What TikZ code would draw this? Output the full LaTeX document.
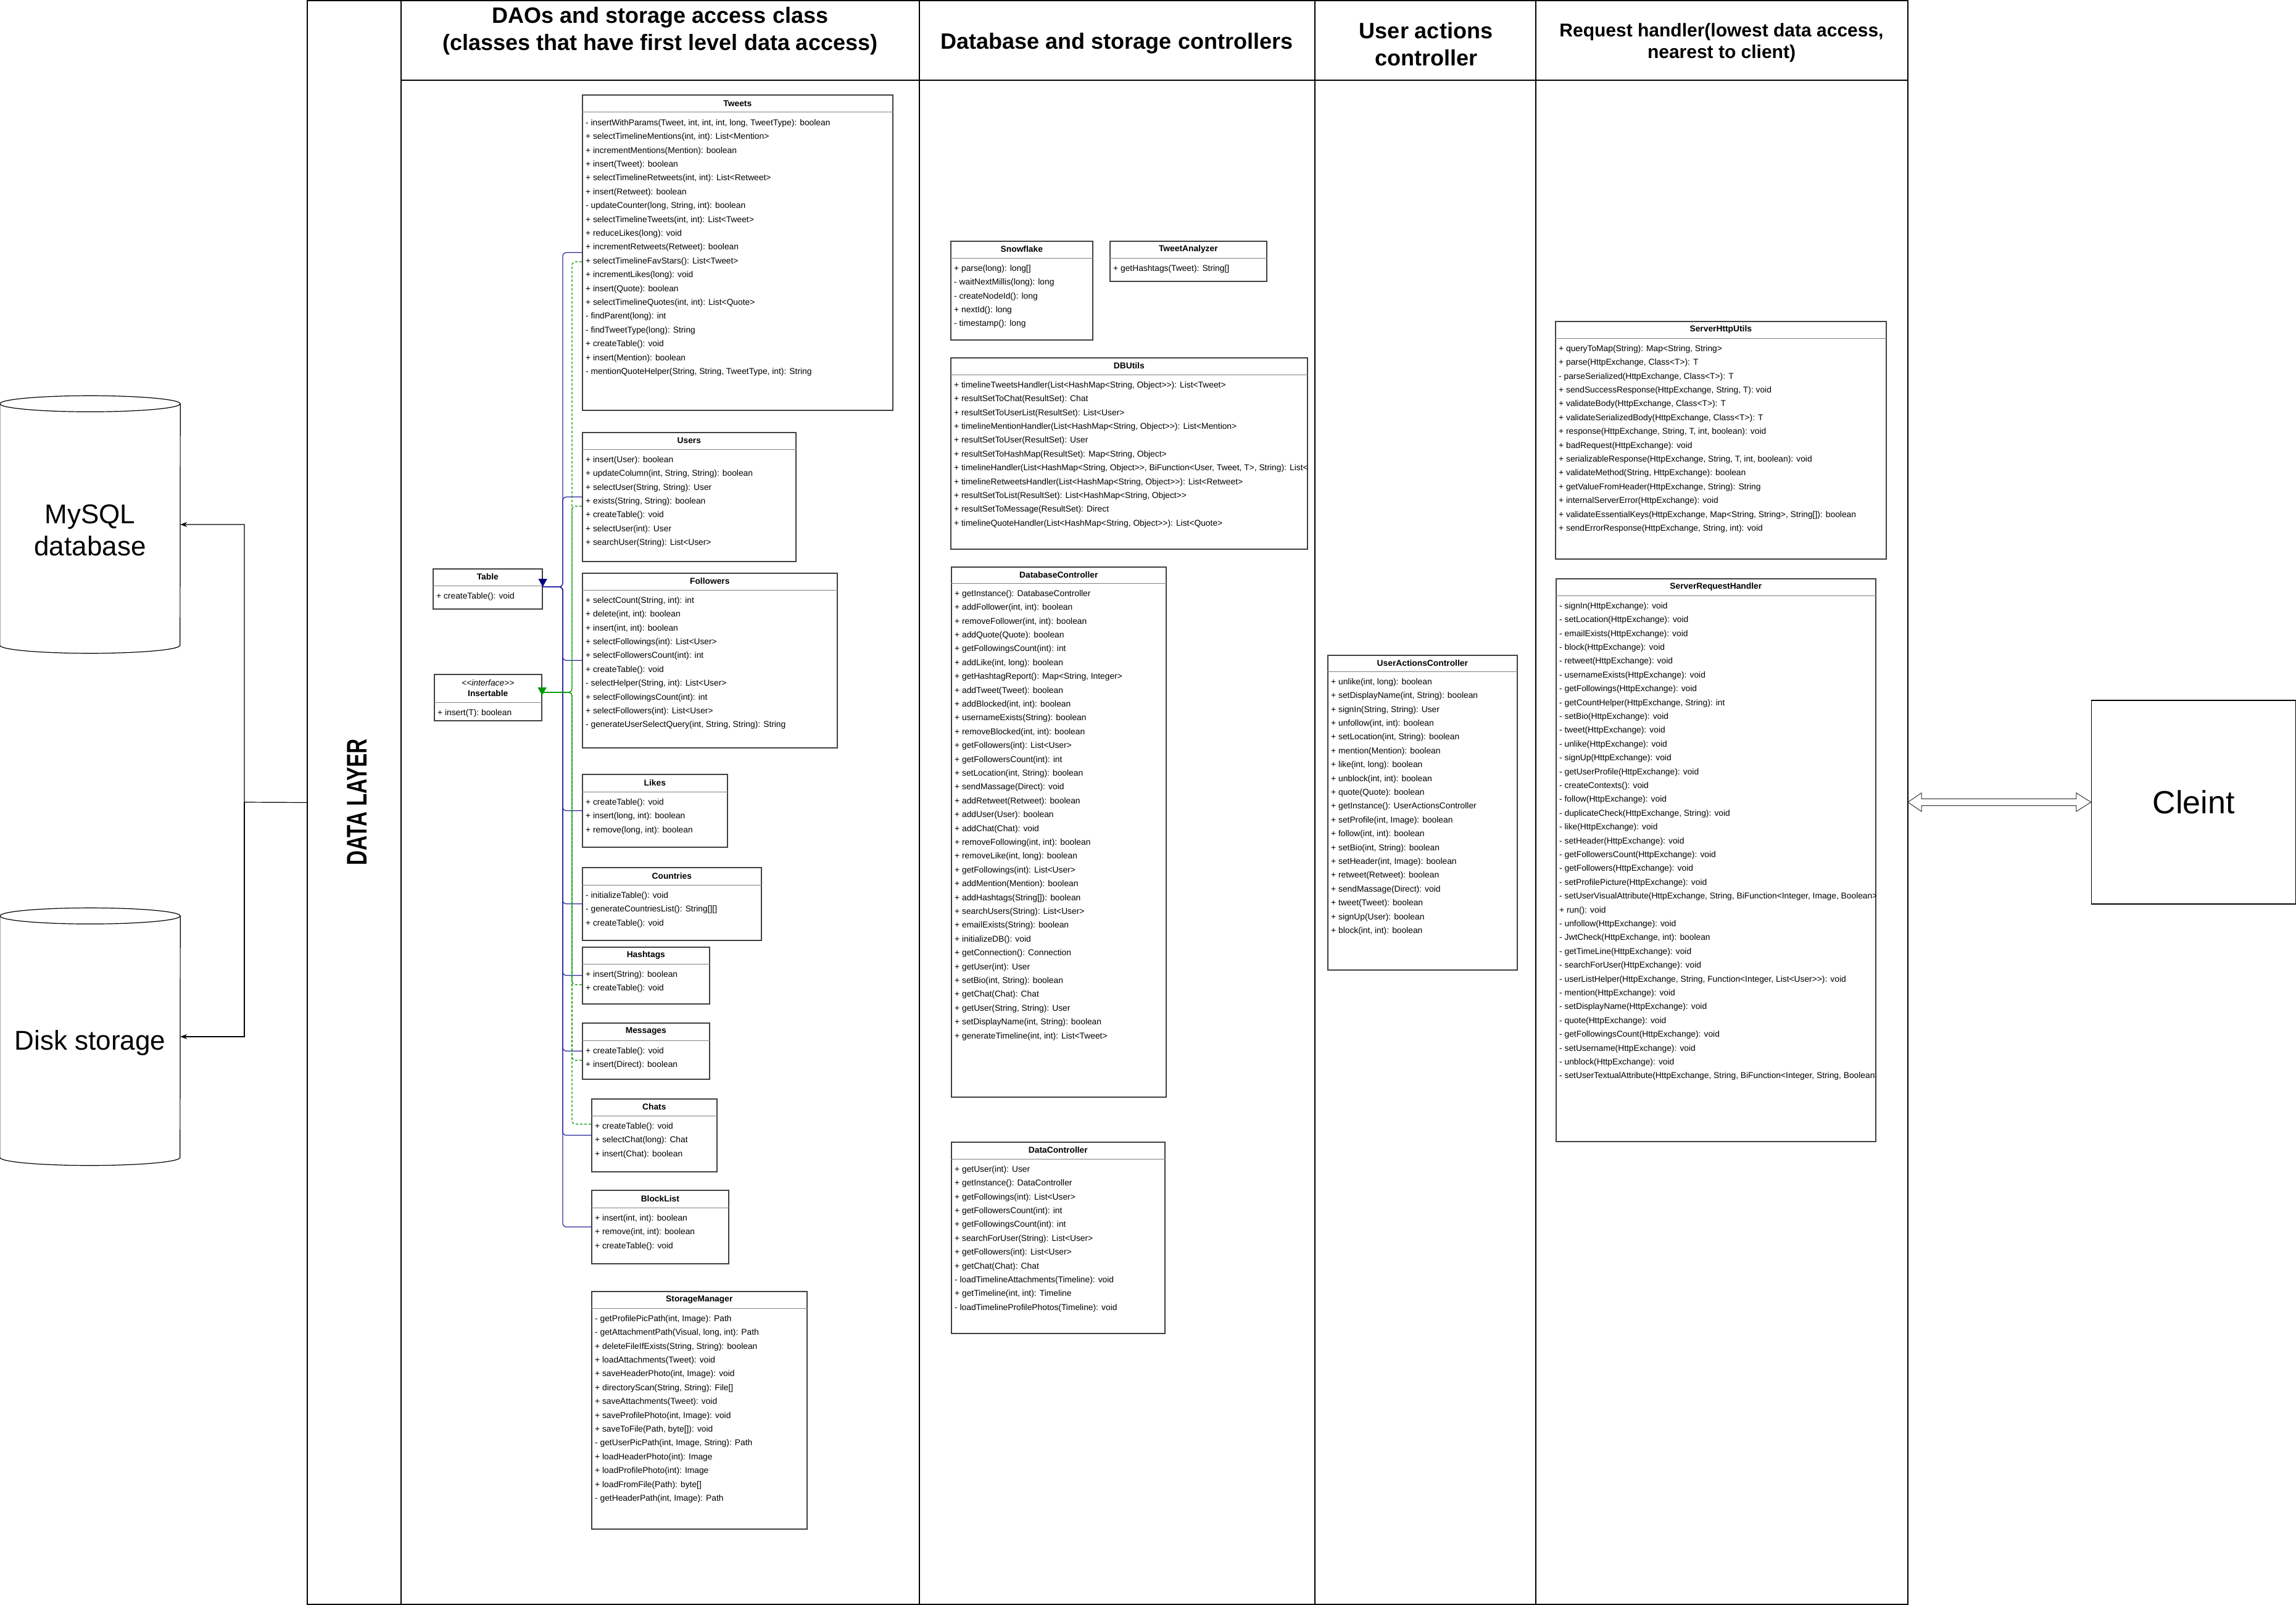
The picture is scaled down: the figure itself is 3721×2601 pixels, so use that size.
\documentclass[tikz,border=0pt]{standalone}
\usepackage{fontspec}
\setmainfont{Liberation Sans}[Ligatures=TeXOff]
\usepackage{xcolor}
\usetikzlibrary{calc,arrows.meta}

\definecolor{inhblue}{RGB}{45,45,165}
\definecolor{inhnavy}{RGB}{0,0,128}
\definecolor{impgreen}{RGB}{0,150,0}

\newcommand{\umlclass}[7]{%
	\node[clsbox,minimum width=#3pt,minimum height=#4pt] (#1) at (#2) {};
	\draw[clssep] ($(#1.north west)+(0,#5)$) -- ($(#1.north east)+(0,#5)$);
	\node[clstitle] (#1-t) at ($(#1.north)+(0,#5/2)$) {#6};
	\begin{scope}
		\clip (#1.north west) rectangle (#1.south east);
		\foreach \m [count=\k from 0] in {#7}
			\node[clsitem] (#1-\k) at ($(#1.north west)+(6,#5+18.7+22.4*\k)$) {\m};
	\end{scope}
}

\begin{document}
\begin{tikzpicture}[%
		x=1pt,y=-1pt,
		clsbox/.style={draw=black!75,line width=1.6pt,fill=white,anchor=north west,inner sep=0pt},
		clssep/.style={draw=black!50,line width=1pt},
		clstitle/.style={font=\bfseries\fontsize{13.8}{17}\selectfont,align=center,inner sep=0pt},
		clsitem/.style={font=\fontsize{13.8}{16}\selectfont,anchor=west,inner sep=0pt,text height=0.72em,text depth=0.2em},
		lane/.style={draw=black,line width=1.5pt},
		hdr/.style={font=\bfseries\fontsize{36}{44}\selectfont,align=center},
		hdrsmall/.style={font=\bfseries\fontsize{30}{35}\selectfont,align=center},
		dbbox/.style={minimum width=292pt,minimum height=417pt,inner sep=0pt},
		dbtext/.style={font=\fontsize{44}{52}\selectfont,align=center},
		cyl/.style={draw=black,line width=1.2pt},
		dbarrow/.style={draw=black,line width=1.2pt,-{Stealth[length=11pt,width=8pt]}},
		inhline/.style={draw=inhblue,line width=1.3pt,rounded corners=6pt},
		impline/.style={draw=impgreen,line width=1.3pt,dash pattern=on 4pt off 3pt,rounded corners=6pt},
		inhtip/.style={draw=inhnavy,line width=1.3pt,-{Triangle[length=13pt,width=14pt,fill=inhnavy]}},
		imptip/.style={draw=impgreen,line width=1.3pt,-{Triangle[length=13pt,width=14pt,fill=impgreen]}},
		flex/.style={draw=black!80,line width=1pt,fill=white}]

	\useasboundingbox (0,0) rectangle (3721,2601);

	\node[lane,minimum width=2594pt,minimum height=2599pt,anchor=north west,inner sep=0pt,outer sep=0pt] (pool) at (498,1) {};
	\draw[lane] (650,1) -- (650,2600);
	\draw[lane] (650,130) -- (3092,130);
	\draw[lane] (1490,1) -- (1490,2600);
	\draw[lane] (2131,1) -- (2131,2600);
	\draw[lane] (2489,1) -- (2489,2600);

	\node[rotate=90,font=\bfseries\fontsize{46}{50}\selectfont] (dlayer) at (579,1300) {\scalebox{0.72}[1]{DATA LAYER}};
	\node[hdr] (hdao) at (1070,50) {DAOs and storage access class\\(classes that have first level data access)};
	\node[hdr] (hdb) at (1810,70) {Database and storage controllers};
	\node[hdr] (hua) at (2311,72) {User actions\\controller};
	\node[hdrsmall] (hreq) at (2790,69) {Request handler(lowest data access,\\nearest to client)};

	\node[dbbox] (mysql) at (146,850) {};
	\node[dbtext] (mysql-l) at ($(mysql.center)+(0,9)$) {MySQL\\database};
	\draw[cyl] ($(mysql.north west)+(0,13)$) -- ($(mysql.south west)+(0,-13)$)
		arc[start angle=180,end angle=360,x radius=146pt,y radius=13pt] -- ($(mysql.north east)+(0,13)$);
	\draw[cyl] ($(mysql.north)+(0,13)$) ellipse [x radius=146pt,y radius=13pt];

	\node[dbbox] (disk) at (146,1680) {};
	\node[dbtext] (disk-l) at ($(disk.center)+(0,10)$) {Disk storage};
	\draw[cyl] ($(disk.north west)+(0,13)$) -- ($(disk.south west)+(0,-13)$)
		arc[start angle=180,end angle=360,x radius=146pt,y radius=13pt] -- ($(disk.north east)+(0,13)$);
	\draw[cyl] ($(disk.north)+(0,13)$) ellipse [x radius=146pt,y radius=13pt];

	\coordinate (split) at (396,1300);
	\draw[dbarrow] (pool.west) -- (split) |- (mysql.east);
	\draw[dbarrow] (split) |- (disk.east);

	\node[draw=black,line width=1.5pt,minimum width=331pt,minimum height=330pt,font=\fontsize{52}{60}\selectfont] (client) at (3555,1300) {Cleint};
	\draw[flex] (pool.east |- client.west) -- ++(22,-15) -- ++(0,9.5) -- ($(client.west)+(-24,-5.5)$) -- ++(0,-9.5)
		-- (client.west) -- ++(-24,15) -- ++(0,-9.5) -- ($(pool.east |- client.west)+(22,5.5)$) -- ++(0,9.5) -- cycle;

	\umlclass{tbl}{701,921}{177}{65}{28}{Table}{{+ createTable(): void}}
	\umlclass{ins}{703,1092}{174}{75}{46}{\textnormal{\itshape <<interface>>}\\Insertable}{{+ insert(T): boolean}}

	\umlclass{tweets}{943,153}{503}{511}{29}{Tweets}{%
		{- insertWithParams(Tweet, int, int, int, long, TweetType): boolean},
		{+ selectTimelineMentions(int, int): List<Mention>},
		{+ incrementMentions(Mention): boolean},
		{+ insert(Tweet): boolean},
		{+ selectTimelineRetweets(int, int): List<Retweet>},
		{+ insert(Retweet): boolean},
		{- updateCounter(long, String, int): boolean},
		{+ selectTimelineTweets(int, int): List<Tweet>},
		{+ reduceLikes(long): void},
		{+ incrementRetweets(Retweet): boolean},
		{+ selectTimelineFavStars(): List<Tweet>},
		{+ incrementLikes(long): void},
		{+ insert(Quote): boolean},
		{+ selectTimelineQuotes(int, int): List<Quote>},
		{- findParent(long): int},
		{- findTweetType(long): String},
		{+ createTable(): void},
		{+ insert(Mention): boolean},
		{- mentionQuoteHelper(String, String, TweetType, int): String}}
	\umlclass{users}{943,700}{346}{209}{28}{Users}{%
		{+ insert(User): boolean},
		{+ updateColumn(int, String, String): boolean},
		{+ selectUser(String, String): User},
		{+ exists(String, String): boolean},
		{+ createTable(): void},
		{+ selectUser(int): User},
		{+ searchUser(String): List<User>}}
	\umlclass{followers}{943,928}{413}{283}{28}{Followers}{%
		{+ selectCount(String, int): int},
		{+ delete(int, int): boolean},
		{+ insert(int, int): boolean},
		{+ selectFollowings(int): List<User>},
		{+ selectFollowersCount(int): int},
		{+ createTable(): void},
		{- selectHelper(String, int): List<User>},
		{+ selectFollowingsCount(int): int},
		{+ selectFollowers(int): List<User>},
		{- generateUserSelectQuery(int, String, String): String}}
	\umlclass{likes}{943,1254}{235}{118}{29}{Likes}{%
		{+ createTable(): void},
		{+ insert(long, int): boolean},
		{+ remove(long, int): boolean}}
	\umlclass{countries}{943,1405}{290}{118}{29}{Countries}{%
		{- initializeTable(): void},
		{- generateCountriesList(): String[][]},
		{+ createTable(): void}}
	\umlclass{hashtags}{943,1534}{206}{92}{28}{Hashtags}{%
		{+ insert(String): boolean},
		{+ createTable(): void}}
	\umlclass{messages}{943,1657}{206}{91}{29}{Messages}{%
		{+ createTable(): void},
		{+ insert(Direct): boolean}}
	\umlclass{chats}{958,1780}{203}{118}{28}{Chats}{%
		{+ createTable(): void},
		{+ selectChat(long): Chat},
		{+ insert(Chat): boolean}}
	\umlclass{blocklist}{958,1928}{222}{119}{29}{BlockList}{%
		{+ insert(int, int): boolean},
		{+ remove(int, int): boolean},
		{+ createTable(): void}}
	\umlclass{storage}{958,2092}{349}{385}{28}{StorageManager}{%
		{- getProfilePicPath(int, Image): Path},
		{- getAttachmentPath(Visual, long, int): Path},
		{+ deleteFileIfExists(String, String): boolean},
		{+ loadAttachments(Tweet): void},
		{+ saveHeaderPhoto(int, Image): void},
		{+ directoryScan(String, String): File[]},
		{+ saveAttachments(Tweet): void},
		{+ saveProfilePhoto(int, Image): void},
		{+ saveToFile(Path, byte[]): void},
		{- getUserPicPath(int, Image, String): Path},
		{+ loadHeaderPhoto(int): Image},
		{+ loadProfilePhoto(int): Image},
		{+ loadFromFile(Path): byte[]},
		{- getHeaderPath(int, Image): Path}}

	\coordinate (tblin) at ($(tbl.north east)+(0,30)$);
	\coordinate (insin) at ($(ins.north east)+(0,30)$);
	\coordinate (bluebus) at (912,951);
	\coordinate (greenbus) at (927,1122);

	\foreach \c in {tweets,users,followers,likes,countries,hashtags,messages,chats,blocklist}
		\draw[inhline] (\c.west) -| (bluebus) -- (tblin);
	\foreach \c in {tweets,users,hashtags,messages}
		\draw[impline] ($(\c.west)+(0,15)$) -| (greenbus) -- (insin);
	\draw[impline] ($(chats.west)+(0,-18)$) -| (greenbus) -- (insin);
	\draw[inhtip] ($(tblin)+(0,-14)$) -- (tblin);
	\draw[imptip] ($(insin)+(0,-9)$) -- ($(insin)+(0,5)$);

	\umlclass{snowflake}{1540,390}{230}{160}{28}{Snowflake}{%
		{+ parse(long): long[]},
		{- waitNextMillis(long): long},
		{- createNodeId(): long},
		{+ nextId(): long},
		{- timestamp(): long}}
	\umlclass{analyzer}{1798,390}{254}{65}{28}{TweetAnalyzer}{%
		{+ getHashtags(Tweet): String[]}}
	\umlclass{dbutils}{1540,579}{578}{310}{28}{DBUtils}{%
		{+ timelineTweetsHandler(List<HashMap<String, Object>>): List<Tweet>},
		{+ resultSetToChat(ResultSet): Chat},
		{+ resultSetToUserList(ResultSet): List<User>},
		{+ timelineMentionHandler(List<HashMap<String, Object>>): List<Mention>},
		{+ resultSetToUser(ResultSet): User},
		{+ resultSetToHashMap(ResultSet): Map<String, Object>},
		{+ timelineHandler(List<HashMap<String, Object>>, BiFunction<User, Tweet, T>, String): List<T>},
		{+ timelineRetweetsHandler(List<HashMap<String, Object>>): List<Retweet>},
		{+ resultSetToList(ResultSet): List<HashMap<String, Object>>},
		{+ resultSetToMessage(ResultSet): Direct},
		{+ timelineQuoteHandler(List<HashMap<String, Object>>): List<Quote>}}
	\umlclass{dbctrl}{1541,918}{348}{859}{27}{DatabaseController}{%
		{+ getInstance(): DatabaseController},
		{+ addFollower(int, int): boolean},
		{+ removeFollower(int, int): boolean},
		{+ addQuote(Quote): boolean},
		{+ getFollowingsCount(int): int},
		{+ addLike(int, long): boolean},
		{+ getHashtagReport(): Map<String, Integer>},
		{+ addTweet(Tweet): boolean},
		{+ addBlocked(int, int): boolean},
		{+ usernameExists(String): boolean},
		{+ removeBlocked(int, int): boolean},
		{+ getFollowers(int): List<User>},
		{+ getFollowersCount(int): int},
		{+ setLocation(int, String): boolean},
		{+ sendMassage(Direct): void},
		{+ addRetweet(Retweet): boolean},
		{+ addUser(User): boolean},
		{+ addChat(Chat): void},
		{+ removeFollowing(int, int): boolean},
		{+ removeLike(int, long): boolean},
		{+ getFollowings(int): List<User>},
		{+ addMention(Mention): boolean},
		{+ addHashtags(String[]): boolean},
		{+ searchUsers(String): List<User>},
		{+ emailExists(String): boolean},
		{+ initializeDB(): void},
		{+ getConnection(): Connection},
		{+ getUser(int): User},
		{+ setBio(int, String): boolean},
		{+ getChat(Chat): Chat},
		{+ getUser(String, String): User},
		{+ setDisplayName(int, String): boolean},
		{+ generateTimeline(int, int): List<Tweet>}}
	\umlclass{datactrl}{1541,1850}{346}{310}{28}{DataController}{%
		{+ getUser(int): User},
		{+ getInstance(): DataController},
		{+ getFollowings(int): List<User>},
		{+ getFollowersCount(int): int},
		{+ getFollowingsCount(int): int},
		{+ searchForUser(String): List<User>},
		{+ getFollowers(int): List<User>},
		{+ getChat(Chat): Chat},
		{- loadTimelineAttachments(Timeline): void},
		{+ getTimeline(int, int): Timeline},
		{- loadTimelineProfilePhotos(Timeline): void}}

	\umlclass{useractions}{2151,1061}{307}{510}{27}{UserActionsController}{%
		{+ unlike(int, long): boolean},
		{+ setDisplayName(int, String): boolean},
		{+ signIn(String, String): User},
		{+ unfollow(int, int): boolean},
		{+ setLocation(int, String): boolean},
		{+ mention(Mention): boolean},
		{+ like(int, long): boolean},
		{+ unblock(int, int): boolean},
		{+ quote(Quote): boolean},
		{+ getInstance(): UserActionsController},
		{+ setProfile(int, Image): boolean},
		{+ follow(int, int): boolean},
		{+ setBio(int, String): boolean},
		{+ setHeader(int, Image): boolean},
		{+ retweet(Retweet): boolean},
		{+ sendMassage(Direct): void},
		{+ tweet(Tweet): boolean},
		{+ signUp(User): boolean},
		{+ block(int, int): boolean}}

	\umlclass{httputils}{2520,520}{536}{385}{28}{ServerHttpUtils}{%
		{+ queryToMap(String): Map<String, String>},
		{+ parse(HttpExchange, Class<T>): T},
		{- parseSerialized(HttpExchange, Class<T>): T},
		{+ sendSuccessResponse(HttpExchange, String, T): void},
		{+ validateBody(HttpExchange, Class<T>): T},
		{+ validateSerializedBody(HttpExchange, Class<T>): T},
		{+ response(HttpExchange, String, T, int, boolean): void},
		{+ badRequest(HttpExchange): void},
		{+ serializableResponse(HttpExchange, String, T, int, boolean): void},
		{+ validateMethod(String, HttpExchange): boolean},
		{+ getValueFromHeader(HttpExchange, String): String},
		{+ internalServerError(HttpExchange): void},
		{+ validateEssentialKeys(HttpExchange, Map<String, String>, String[]): boolean},
		{+ sendErrorResponse(HttpExchange, String, int): void}}
	\umlclass{reqhandler}{2521,937}{518}{912}{28}{ServerRequestHandler}{%
		{- signIn(HttpExchange): void},
		{- setLocation(HttpExchange): void},
		{- emailExists(HttpExchange): void},
		{- block(HttpExchange): void},
		{- retweet(HttpExchange): void},
		{- usernameExists(HttpExchange): void},
		{- getFollowings(HttpExchange): void},
		{- getCountHelper(HttpExchange, String): int},
		{- setBio(HttpExchange): void},
		{- tweet(HttpExchange): void},
		{- unlike(HttpExchange): void},
		{- signUp(HttpExchange): void},
		{- getUserProfile(HttpExchange): void},
		{- createContexts(): void},
		{- follow(HttpExchange): void},
		{- duplicateCheck(HttpExchange, String): void},
		{- like(HttpExchange): void},
		{- setHeader(HttpExchange): void},
		{- getFollowersCount(HttpExchange): void},
		{- getFollowers(HttpExchange): void},
		{- setProfilePicture(HttpExchange): void},
		{- setUserVisualAttribute(HttpExchange, String, BiFunction<Integer, Image, Boolean>): void},
		{+ run(): void},
		{- unfollow(HttpExchange): void},
		{- JwtCheck(HttpExchange, int): boolean},
		{- getTimeLine(HttpExchange): void},
		{- searchForUser(HttpExchange): void},
		{- userListHelper(HttpExchange, String, Function<Integer, List<User>>): void},
		{- mention(HttpExchange): void},
		{- setDisplayName(HttpExchange): void},
		{- quote(HttpExchange): void},
		{- getFollowingsCount(HttpExchange): void},
		{- setUsername(HttpExchange): void},
		{- unblock(HttpExchange): void},
		{- setUserTextualAttribute(HttpExchange, String, BiFunction<Integer, String, Boolean>): void}}
\end{tikzpicture}
\end{document}
